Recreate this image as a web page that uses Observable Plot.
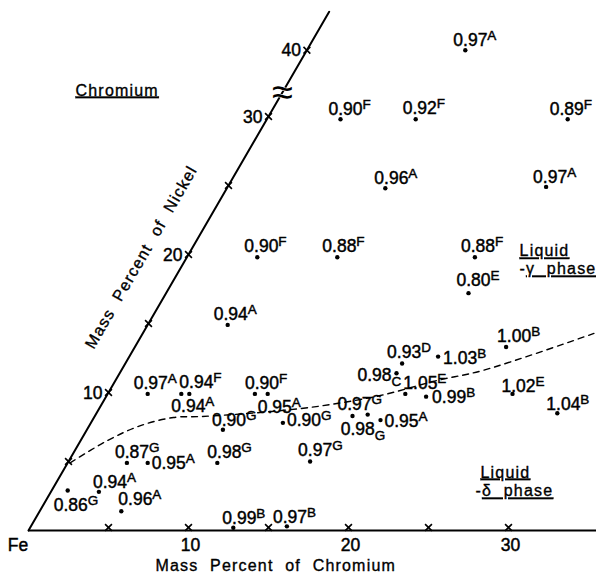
<!DOCTYPE html>
<html><head><meta charset="utf-8">
<script src="https://cdn.jsdelivr.net/npm/d3@7"></script>
<script src="https://cdn.jsdelivr.net/npm/@observablehq/plot@0.6"></script>
<style>
body{margin:0;background:#fff;}
.ptlabel text, .ticklbl text{font-family:"Liberation Sans Narrow","Liberation Sans",sans-serif;font-size:17.5px;stroke:black;stroke-width:0.45px;}
.ttl text{font-family:"Liberation Sans",sans-serif;font-size:16px;letter-spacing:1.2px;word-spacing:6px;stroke:black;stroke-width:0.35px;}
</style></head><body><div id="chart"></div>
<script>
// ---- data ----
const values  = ["0.86","0.94","0.96","0.87","0.95","0.98","0.99","0.97","0.97","0.94",
                 "0.97","0.94","0.94","0.90","0.95","0.90","0.90","0.97","0.98","0.95",
                 "0.93","1.03","0.98","1.05","0.99","1.00","1.02","1.04","0.90","0.88",
                 "0.88","0.80","0.96","0.97","0.90","0.92","0.89","0.97"];
const sources = ["G","A","A","G","A","G","B","B","G","A",
                 "A","F","A","F","A","G","G","G","G","A",
                 "D","B","C","E","B","B","E","B","F","F",
                 "F","E","A","A","F","F","F","A"];
const chromium = [1.0,3.0,5.1,3.7,5.0,9.35,12.7,16.0,15.1,5.0,
                  2.5,5.1,4.6,9.2,10.0,8.5,12.0,16.1,17.0,18.0,
                  17.3,19.3,17.3,18.6,20.0,23.2,25.3,28.8,4.4,9.4,
                  18.0,18.9,9.9,19.9,4.6,9.3,18.8,9.9];
const nickel   = [2.9,2.8,1.4,4.9,4.9,4.9,0.2,0.3,5.0,14.9,
                  9.9,9.9,9.9,9.9,9.9,7.3,7.8,8.3,8.4,8.0,
                  12.1,12.6,11.4,9.9,9.7,13.3,9.9,8.5,19.8,19.8,
                  19.8,17.2,24.8,24.9,29.8,29.8,29.8,40];
// letter written as superscript or subscript
const letterKind = sources.map((s,i) => (i === 18 || i === 22) ? "sub" : "sup");

// phase boundary (dashed curve), Cr / Ni mass percent
const boundaryCr = [0.15,1.68,3.2,4.97,6.66,10.2,12.6,14.3,17.1,20.1,22.6,28.2];
const boundaryNi = [4.9,6.52,7.6,8.19,8.26,8.55,8.84,9.13,9.78,10.87,11.6,14.28];

const crTicks = [5,10,15,20,25,30];
const crTickLabels = ["10","20","30"];
const niTicks = [5,10,15,20,25,30,40];
const niTickLabels = ["10","20","30","40"];
const niAxisEnd = 45.8;

// ---- layout (label nudges, pixels: text start / baseline relative to dot) ----
const labelNudge = [[-14,21],[-6,-4],[-3,-6],[-12,-5],[4,6],[-10,-5],[-11,-4],[-14,-3],[-12,-6],[-14,-5],
                    [-14,-5],[-10,-6],[-10,18],[-10,-5],[-10,19],[-11,-4],[4,3],[-15,-6],[-27,20],[4,7],
                    [-15,-6],[5,7],[-39,8],[-2,-5],[6,6],[-9,-5],[-11,-2],[-11,-3],[-13,-5],[-15,-5],
                    [-14,-5],[-12,-7],[-11,-4],[-13,-4],[-12,-4],[-13,-5],[-18,-4],[-12,-4]];

// oblique (60°) coordinates with a compressed section above 30 % Ni
const niBreak = 30, niCompress = 0.48;
const niD = n => n <= niBreak ? n : niBreak + (n - niBreak) * niCompress;
const X = (cr, ni) => cr + 0.5 * niD(ni);
const Y = ni => niD(ni);

const points = values.map((v,i) => ({v, s: sources[i], k: letterKind[i], cr: chromium[i], ni: nickel[i], nd: labelNudge[i]}));
const boundary = boundaryCr.map((c,i) => ({cr: c, ni: boundaryNi[i]}));

const labelMarks = points.map(p => Plot.text([p], {
  x: d => X(d.cr, d.ni), y: d => Y(d.ni), text: d => d.v + "|" + d.s + "|" + d.k,
  textAnchor: "start", lineAnchor: "bottom", dx: p.nd[0], dy: p.nd[1], fill: "black", className: "ptlabel"
}));

const svg = Plot.plot({
  width: 596, height: 574,
  margin: 0,
  x: {domain: [0, 35.5], range: [28, 596], axis: null},
  y: {domain: [0, 38], range: [530, 530 - 13.8 * 38], axis: null},
  marks: [
    Plot.ruleY([0], {x1: 0, x2: 35.5, stroke: "black", strokeWidth: 2}),
    Plot.line([0, niAxisEnd], {x: d => X(0, d), y: d => Y(d), stroke: "black", strokeWidth: 2}),
    Plot.dot(crTicks, {x: d => d, y: 0, symbol: "times", r: 3.2, dy: -3, stroke: "black", strokeWidth: 1.6}),
    Plot.dot(niTicks, {x: d => X(0, d), y: d => Y(d), symbol: "times", r: 3.2, stroke: "black", strokeWidth: 1.6}),
    Plot.text([niBreak + 3.6], {x: d => X(0, d), y: d => Y(d), text: () => "≈", fontSize: 38, fill: "black", stroke: "white", strokeWidth: 1}),
    Plot.text(crTickLabels, {x: d => +d, y: 0, text: d => d, dy: 20, dx: 2, lineAnchor: "bottom", className: "ticklbl"}),
    Plot.text(["Fe"], {x: 0, y: 0, text: d => d, dx: -10.5, dy: 20, lineAnchor: "bottom", className: "ticklbl"}),
    Plot.text(niTickLabels, {x: d => X(0, +d), y: d => Y(+d), text: d => d, textAnchor: "end", dx: -6, dy: 6, lineAnchor: "bottom", className: "ticklbl"}),
    Plot.text(["Mass Percent of Chromium"], {x: 15.45, y: 0, text: d => d, dy: 40, lineAnchor: "bottom", className: "ttl"}),
    Plot.text(["Mass Percent of Nickel"], {x: X(-2.85, 19.8), y: Y(19.8), text: d => d, rotate: -60, className: "ttl"}),
    Plot.text(["Chromium"], {frameAnchor: "top-left", text: d => d, dx: 75, dy: 95, textAnchor: "start", lineAnchor: "bottom", className: "ttl uline"}),
    Plot.text(["Liquid"], {x: X(20.76, 19.86), y: Y(19.86), text: d => d, textAnchor: "start", lineAnchor: "bottom", className: "ttl uline"}),
    Plot.text(["-γ phase"], {x: X(21.3, 18.77), y: Y(18.77), text: d => d, dy: 3, textAnchor: "start", lineAnchor: "bottom", className: "ttl uline2"}),
    Plot.text(["Liquid"], {x: X(26.33, 3.84), y: Y(3.84), text: d => d, textAnchor: "start", lineAnchor: "bottom", className: "ttl uline"}),
    Plot.text(["-δ phase"], {x: X(26.63, 2.61), y: Y(2.61), text: d => d, dy: 2, textAnchor: "start", lineAnchor: "bottom", className: "ttl uline2"}),
    Plot.line(boundary, {x: d => X(d.cr, d.ni), y: d => Y(d.ni), curve: "catmull-rom", stroke: "black", strokeWidth: 1.4, strokeDasharray: "6,5"}),
    Plot.dot(points, {x: d => X(d.cr, d.ni), y: d => Y(d.ni), r: 2.2, fill: "black"}),
    ...labelMarks
  ]
});

const root = d3.select(svg);
root.selectAll("g.ptlabel text").each(function() {
  const el = d3.select(this);
  const [num, letter, kind] = el.text().split("|");
  el.text(null);
  el.append("tspan").text(num);
  el.append("tspan").attr("font-size", 13.5).attr("dy", kind === "sub" ? 5 : -6).text(letter);
});
root.selectAll("g.uline text").style("text-decoration", "underline");
root.selectAll("g.uline2 text").each(function() {
  const el = d3.select(this);
  const t = el.text();
  el.text(null);
  el.append("tspan").text(t.slice(0,1));
  el.append("tspan").style("text-decoration", "underline").text(t.slice(1));
});
document.getElementById("chart").append(svg);
</script></body></html>
